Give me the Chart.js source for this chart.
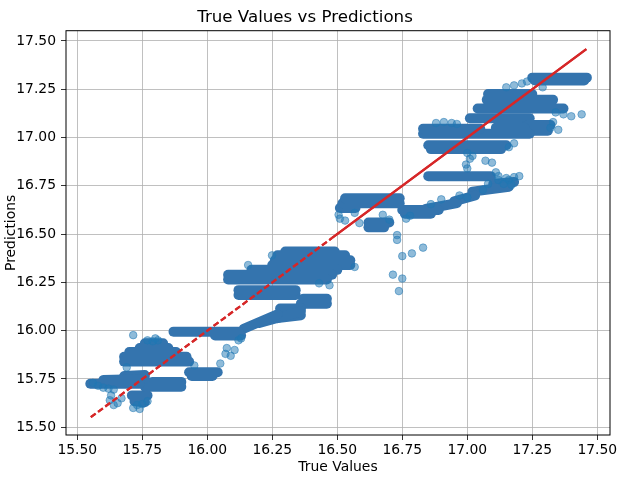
<!DOCTYPE html>
<html>
<head>
<meta charset="utf-8">
<script src="https://cdn.jsdelivr.net/npm/chart.js@4"></script>
<style>
  body { margin: 0; background: #fff; }
</style>
</head>
<body>
<canvas id="chart" width="640" height="477"></canvas>
<script>
// tick labels
const xTicks = [15.5, 15.75, 16.0, 16.25, 16.5, 16.75, 17.0, 17.25, 17.5];
const yTicks = [15.5, 15.75, 16.0, 16.25, 16.5, 16.75, 17.0, 17.25, 17.5];

// dense runs of predictions (start and end of each run, true value / prediction)
const streakX0 = [15.55, 15.60, 15.68, 15.76, 15.79, 15.71, 15.72,
  15.68, 15.68, 15.70, 15.74, 15.76, 15.93, 15.94, 15.87, 16.03,
  16.14, 16.20, 16.27, 16.28, 16.37, 16.36, 16.12, 16.12,
  16.08, 16.08, 16.17, 16.25, 16.26, 16.27, 16.30,
  16.53, 16.52, 16.51, 16.62, 16.62, 16.75, 16.76,
  16.84, 16.95, 17.02, 17.10,
  16.85, 16.85, 16.86, 16.83, 16.83, 17.11, 17.23, 17.23, 17.01, 17.04, 17.075, 17.08, 17.25, 17.26];
const streakY0 = [15.725, 15.745, 15.765, 15.71, 15.735, 15.665, 15.635,
  15.84, 15.865, 15.89, 15.91, 15.935, 15.785, 15.765, 15.995, 15.975,
  16.01, 16.04, 16.065, 16.115, 16.165, 16.14, 16.21, 16.185,
  16.265, 16.29, 16.315, 16.34, 16.365, 16.39, 16.41,
  16.685, 16.66, 16.635, 16.56, 16.535, 16.625, 16.605,
  16.63, 16.67, 16.72, 16.76,
  16.80, 16.96, 16.94, 17.045, 17.02, 17.05, 17.035, 17.065, 17.10, 17.15, 17.195, 17.225, 17.31, 17.295];
const streakX1 = [15.74, 15.76, 15.76, 15.90, 15.90, 15.77, 15.76,
  15.93, 15.92, 15.88, 15.85, 15.83, 16.04, 16.02, 16.12, 16.13,
  16.27, 16.36, 16.36, 16.36, 16.46, 16.46, 16.34, 16.34,
  16.46, 16.48, 16.50, 16.55, 16.55, 16.53, 16.49,
  16.74, 16.74, 16.57, 16.70, 16.68, 16.89, 16.86,
  16.96, 17.03, 17.16, 17.18,
  17.09, 17.15, 17.13, 17.05, 17.24, 17.22, 17.31, 17.32, 17.24, 17.37, 17.33, 17.25, 17.46, 17.45];
const streakY1 = [15.725, 15.75, 15.77, 15.71, 15.735, 15.665, 15.63,
  15.84, 15.865, 15.89, 15.91, 15.935, 15.785, 15.765, 15.995, 15.975,
  16.085, 16.10, 16.08, 16.115, 16.165, 16.14, 16.21, 16.185,
  16.265, 16.29, 16.315, 16.34, 16.365, 16.39, 16.41,
  16.685, 16.66, 16.635, 16.56, 16.535, 16.625, 16.605,
  16.66, 16.70, 16.745, 16.77,
  16.80, 16.96, 16.94, 17.045, 17.02, 17.05, 17.035, 17.065, 17.10, 17.15, 17.195, 17.225, 17.31, 17.295];

// single, scattered predictions
const pointX = [15.56, 15.58, 15.60, 15.62, 15.64, 15.625, 15.64, 15.655, 15.67, 15.63,
  15.715, 15.73, 15.75, 15.77, 15.74, 15.715, 15.80, 15.81, 15.79, 15.77, 15.69, 15.95,
  16.05, 16.075, 16.09, 16.105, 16.12, 16.13, 16.07,
  16.157, 16.249, 16.567, 16.43, 16.47,
  16.53, 16.567, 16.585, 16.505, 16.51, 16.675, 16.70, 16.765, 16.78,
  16.73, 16.73, 16.75, 16.787, 16.83, 16.714, 16.75, 16.737,
  16.86, 16.90, 16.97, 17.00, 17.06, 17.08, 17.12, 17.16,
  17.12, 17.15, 17.18, 17.20, 17.14, 17.17, 17.11,
  17.00, 17.01, 16.995, 17.07, 17.095, 17.00, 17.02, 17.16, 17.18,
  16.88, 16.91, 16.94, 16.96,
  17.34, 17.37, 17.40, 17.44, 17.32, 17.35, 17.33,
  17.15, 17.18, 17.21, 17.23, 17.29];
const pointY = [15.73, 15.715, 15.705, 15.70, 15.695, 15.64, 15.615, 15.625, 15.65, 15.665,
  15.60, 15.615, 15.62, 15.635, 15.595, 15.977, 15.96, 15.95, 15.945, 15.95, 15.81, 15.82,
  15.83, 15.91, 15.87, 15.90, 15.95, 15.96, 15.88,
  16.34, 16.39, 16.33, 16.245, 16.235,
  16.57, 16.61, 16.557, 16.60, 16.58, 16.60, 16.575, 16.58, 16.595,
  16.495, 16.47, 16.386, 16.40, 16.43, 16.29, 16.27, 16.205,
  16.655, 16.68, 16.70, 16.69, 16.73, 16.76, 16.78, 16.78,
  16.80, 16.79, 16.795, 16.80, 16.76, 16.755, 16.82,
  16.92, 16.89, 16.86, 16.88, 16.87, 16.84, 16.905, 16.95, 16.97,
  17.075, 17.08, 17.075, 17.07,
  17.13, 17.12, 17.11, 17.12, 17.05, 17.04, 17.08,
  17.26, 17.27, 17.28, 17.29, 17.26];

// y = x reference line (dashed lower part, solid where it overlaps itself)
const lineX = [15.552, 16.48, 17.458];

Chart.defaults.font.family = "'DejaVu Sans', sans-serif";
Chart.defaults.font.size = 13.9;
Chart.defaults.color = "#000";

const blue = "rgb(52, 116, 174)";
const blueAlpha = "rgba(31, 119, 180, 0.5)";
const red = "#d62728";

const streaks = streakX0.map((x0, i) => ({
  data: [
    { x: x0, y: streakY0[i] },
    { x: streakX1[i], y: streakY1[i] },
  ],
  showLine: true,
  borderColor: blue,
  borderWidth: 10,
  borderCapStyle: "round",
  pointRadius: 0,
  order: 2,
}));

const points = {
  data: pointX.map((x, i) => ({ x: x, y: pointY[i] })),
  backgroundColor: blueAlpha,
  borderColor: blueAlpha,
  borderWidth: 1,
  pointRadius: 3.8,
  order: 1,
};

const idealDashed = {
  data: [
    { x: lineX[0], y: lineX[0] },
    { x: lineX[1], y: lineX[1] },
  ],
  showLine: true,
  borderColor: red,
  borderWidth: 2.2,
  borderDash: [6, 3],
  pointRadius: 0,
  order: 0,
  onTop: true,
};

const idealSolid = {
  data: [
    { x: lineX[1], y: lineX[1] },
    { x: lineX[2], y: lineX[2] },
  ],
  showLine: true,
  borderColor: red,
  borderWidth: 2.2,
  pointRadius: 0,
  order: 0,
  onTop: true,
};

// redraw the red line above the grid, then the four spines
const frame = {
  id: "frame",
  afterDraw(chart) {
    const ctx = chart.ctx;
    const a = chart.chartArea;
    ctx.save();
    ctx.beginPath();
    ctx.rect(a.left, a.top, a.right - a.left, a.bottom - a.top);
    ctx.clip();
    chart.data.datasets.forEach((ds, i) => {
      if (ds.onTop) chart.getDatasetMeta(i).controller.draw();
    });
    ctx.restore();
    ctx.save();
    ctx.strokeStyle = "#000";
    ctx.lineWidth = 1;
    ctx.strokeRect(a.left, a.top, a.right - a.left, a.bottom - a.top);
    ctx.restore();
  },
};

const grid = {
  color: "#b0b0b0",
  lineWidth: 0.8,
  tickLength: 5,
  tickColor: "#000",
  tickWidth: 0.8,
};

new Chart(document.getElementById("chart"), {
  type: "scatter",
  data: { datasets: [idealDashed, idealSolid, points, ...streaks] },
  options: {
    responsive: false,
    animation: false,
    events: [],
    layout: { padding: { top: 0, right: 30, bottom: 0, left: 0 } },
    plugins: {
      legend: { display: false },
      tooltip: { enabled: false },
      title: {
        display: true,
        text: "True Values vs Predictions",
        font: { size: 16.67, weight: "normal" },
        color: "#000",
        padding: { top: 8, bottom: 2.7 },
      },
    },
    scales: {
      x: {
        type: "linear",
        min: 15.4565,
        max: 17.549,
        z: 1,
        grid: grid,
        border: { display: false },
        afterBuildTicks: (axis) => {
          axis.ticks = xTicks.map((v) => ({ value: v }));
        },
        afterFit: (axis) => {
          axis.height = 42;
          axis.paddingLeft = 0;
          axis.paddingRight = 0;
        },
        ticks: { padding: 2, maxRotation: 0, callback: (v) => v.toFixed(2) },
        title: { display: true, text: "True Values", padding: { top: 0, bottom: 1 } },
      },
      y: {
        type: "linear",
        min: 15.46,
        max: 17.553,
        z: 1,
        grid: grid,
        border: { display: false },
        afterBuildTicks: (axis) => {
          axis.ticks = yTicks.map((v) => ({ value: v }));
        },
        afterFit: (axis) => {
          axis.width = 66;
          axis.paddingTop = 0;
          axis.paddingBottom = 0;
        },
        ticks: { padding: 5, callback: (v) => v.toFixed(2) },
        title: { display: true, text: "Predictions", padding: { top: 3.5, bottom: 0 } },
      },
    },
  },
  plugins: [frame],
});
</script>
</body>
</html>
